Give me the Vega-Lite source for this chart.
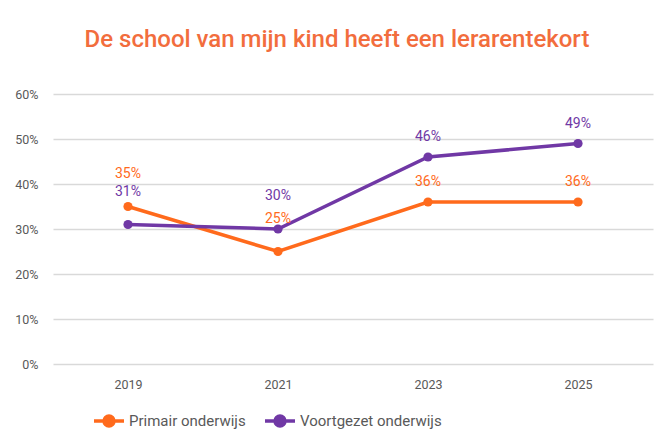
{
  "$schema": "https://vega.github.io/schema/vega-lite/v6.json",
  "width": 600,
  "height": 270,
  "autosize": {"type": "none"},
  "padding": {"left": 53, "top": 94, "right": 18, "bottom": 77},
  "background": "white",
  "config": {
    "view": {"stroke": null},
    "font": "Roboto",
    "axis": {"labelFont": "Roboto", "labelColor": "#595959", "labelFontSize": 12.5}
  },
  "title": {
    "text": "De school van mijn kind heeft een lerarentekort",
    "color": "#F26D3D",
    "fontSize": 24,
    "fontWeight": 500,
    "font": "Roboto",
    "anchor": "middle",
    "frame": "group",
    "dx": -16,
    "offset": 36
  },
  "data": {
    "values": [
      {"jaar": "2019", "reeks": "Primair onderwijs", "waarde": 0.35},
      {"jaar": "2021", "reeks": "Primair onderwijs", "waarde": 0.25},
      {"jaar": "2023", "reeks": "Primair onderwijs", "waarde": 0.36},
      {"jaar": "2025", "reeks": "Primair onderwijs", "waarde": 0.36},
      {"jaar": "2019", "reeks": "Voortgezet onderwijs", "waarde": 0.31},
      {"jaar": "2021", "reeks": "Voortgezet onderwijs", "waarde": 0.30},
      {"jaar": "2023", "reeks": "Voortgezet onderwijs", "waarde": 0.46},
      {"jaar": "2025", "reeks": "Voortgezet onderwijs", "waarde": 0.49}
    ]
  },
  "encoding": {
    "x": {
      "field": "jaar", "type": "ordinal",
      "scale": {"type": "point", "padding": 0.5},
      "axis": {"title": null, "labelAngle": 0, "domain": false, "ticks": false, "labelPadding": 14, "grid": false}
    },
    "y": {
      "field": "waarde", "type": "quantitative",
      "scale": {"domain": [0, 0.6], "nice": false},
      "axis": {"title": null, "format": ".0%", "values": [0, 0.1, 0.2, 0.3, 0.4, 0.5, 0.6], "domain": false, "ticks": false, "labelPadding": 15, "gridColor": "#d9d9d9", "gridWidth": 1.3}
    },
    "color": {
      "field": "reeks", "type": "nominal",
      "scale": {"domain": ["Primair onderwijs", "Voortgezet onderwijs"], "range": ["#FF6A1C", "#7038A5"]},
      "legend": null
    }
  },
  "layer": [
    {
      "mark": {"type": "line", "strokeWidth": 3.5},
      "encoding": {
        "color": {
          "field": "reeks", "type": "nominal",
          "legend": {
            "title": null, "orient": "none", "direction": "horizontal",
            "legendX": 39, "legendY": 310,
            "symbolType": "M-1,0L1,0M-0.33,0A0.33,0.33 0 1,1 0.33,0A0.33,0.33 0 1,1 -0.33,0Z",
            "symbolSize": 900, "symbolStrokeWidth": 3.5,
            "labelFontSize": 15, "labelColor": "#595959", "labelFont": "Roboto",
            "labelOffset": 3, "columnPadding": 12,
            "encode": {"symbols": {"update": {"fill": {"scale": "color", "field": "value"}, "fillOpacity": {"value": 1}}}}
          }
        }
      }
    },
    {
      "mark": {"type": "circle", "size": 85, "opacity": 1}
    },
    {
      "transform": [{"filter": "datum.jaar == '2019' || datum.jaar == '2021'"}],
      "mark": {"type": "text", "dy": -33, "fontSize": 14, "font": "Roboto"},
      "encoding": {"text": {"field": "waarde", "format": ".0%"}}
    },
    {
      "transform": [{"filter": "datum.jaar == '2023' || datum.jaar == '2025'"}],
      "mark": {"type": "text", "dy": -20, "fontSize": 14, "font": "Roboto"},
      "encoding": {"text": {"field": "waarde", "format": ".0%"}}
    }
  ]
}
